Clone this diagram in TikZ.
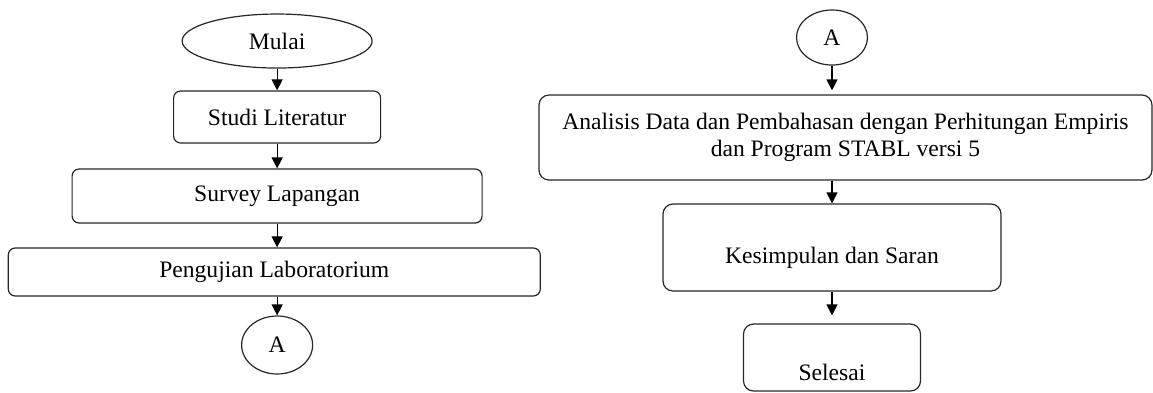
\documentclass[tikz,border=0pt]{standalone}
\usepackage{fontspec}
\setmainfont{Liberation Serif}
\usetikzlibrary{shapes.geometric, arrows.meta}

\tikzset{
  proc/.style={draw=black!85, line width=0.6pt, rounded corners=3.5pt, inner sep=0pt, align=center},
  term/.style={ellipse, draw=black!85, line width=0.6pt, inner sep=0pt},
  flow/.style={line width=0.6pt, -{Triangle[length=5.5pt, width=5.5pt]}}
}

\begin{document}
\begin{tikzpicture}[font=\fontsize{11.8}{13.5}\selectfont]
\useasboundingbox (0,0) rectangle (20.262,6.889);

% left column
\node[term, minimum width=3.339cm, minimum height=0.949cm] (mulai) at (4.87, 6.168) {Mulai};
\node[proc, minimum width=3.638cm, minimum height=0.914cm] (studi) at (4.87, 4.833) {Studi Literatur};
\node[proc, minimum width=7.205cm, minimum height=0.949cm] (survey) at (4.87, 3.444) {Survey Lapangan};
\node[proc, minimum width=9.349cm, minimum height=0.844cm] (uji) at (4.82, 2.109) {Pengujian Laboratorium};
\node[term, minimum width=1.248cm, minimum height=1.019cm] (conL) at (4.87, 0.826) {A};

\draw[flow] (mulai) -- (studi);
\draw[flow] (studi) -- (survey);
\draw[flow] (survey) -- (survey |- uji.north);
\draw[flow] (uji.south -| conL) -- (conL);

% right column
\node[term, minimum width=1.248cm, minimum height=0.967cm] (conR) at (14.621, 6.230) {A};
\node[proc, rounded corners=5pt, minimum width=10.772cm, minimum height=1.494cm] (analisis) at (14.858, 4.472) {Analisis Data dan Pembahasan dengan Perhitungan Empiris\\dan Program STABL versi 5};
\node[proc, rounded corners=5pt, minimum width=5.940cm, minimum height=1.529cm, text height=18pt] (simpulan) at (14.621, 2.539) {Kesimpulan dan Saran};
\node[proc, rounded corners=5pt, minimum width=3.110cm, minimum height=1.177cm, text height=23.5pt] (selesai) at (14.621, 0.606) {Selesai};

\draw[flow, shorten >=2pt] (conR) -- (conR |- analisis.north);
\draw[flow] (analisis.south -| simpulan) -- (simpulan);
\draw[flow, shorten >=4pt] (simpulan) -- (selesai);

\end{tikzpicture}
\end{document}
